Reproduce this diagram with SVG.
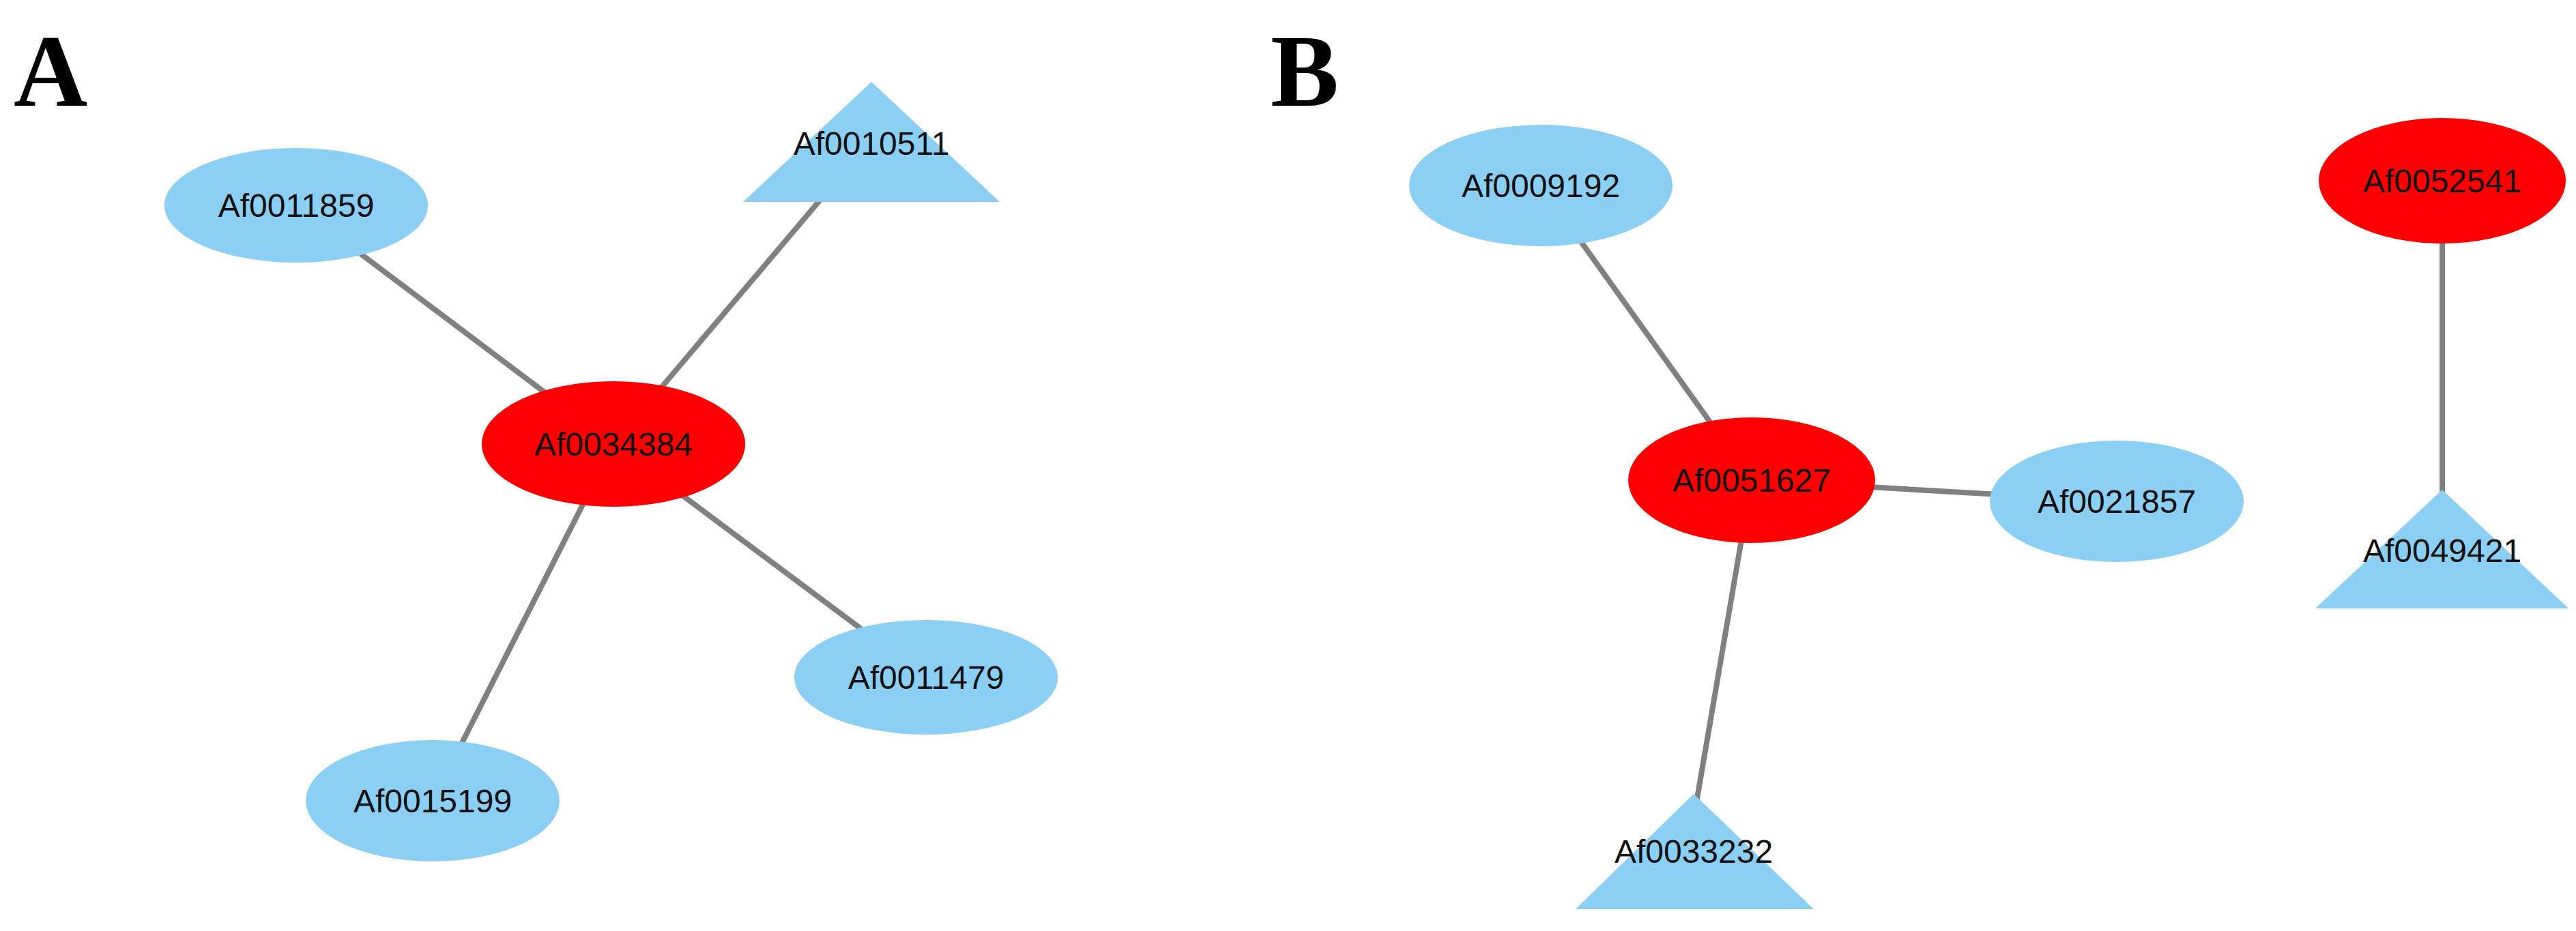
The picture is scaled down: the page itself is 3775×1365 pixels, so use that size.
<svg xmlns="http://www.w3.org/2000/svg" width="3775" height="1365" viewBox="0 0 3775 1365">
<style>
.b{fill:#8ccff4}.r{fill:#ff0000}
.t{font-family:"Liberation Sans",Arial,sans-serif;font-size:48px;fill:#111;text-anchor:middle;dominant-baseline:central}
.L{font-family:"Liberation Serif","Times New Roman",serif;font-size:150px;font-weight:bold;fill:#000}
#edges line{stroke:#808080;stroke-width:8}
</style>
<rect width="3775" height="1365" fill="#fff"/>
<text class="L" x="20" y="155">A</text>
<text class="L" x="1862" y="155">B</text>
<g id="edges">
<line x1="899" y1="651" x2="434" y2="301"/>
<line x1="899" y1="651" x2="1230" y2="260"/>
<line x1="899" y1="651" x2="1357" y2="993"/>
<line x1="899" y1="651" x2="634" y2="1174"/>
<line x1="2567" y1="704" x2="2258" y2="272"/>
<line x1="2567" y1="704" x2="3102" y2="735"/>
<line x1="2567" y1="704" x2="2482" y2="1200"/>
<line x1="3579" y1="265" x2="3579" y2="760"/>
</g>
<g id="n11859"><ellipse class="b" cx="434" cy="301" rx="193" ry="84"/><text class="t" x="434" y="301">Af0011859</text></g>
<g id="n10511"><polygon class="b" points="1277,120 1465,296 1089,296"/><text class="t" x="1277" y="210">Af0010511</text></g>
<g id="n34384"><ellipse class="r" cx="899" cy="651" rx="193" ry="92"/><text class="t" x="899" y="651">Af0034384</text></g>
<g id="n11479"><ellipse class="b" cx="1357" cy="993" rx="193" ry="84"/><text class="t" x="1357" y="993">Af0011479</text></g>
<g id="n15199"><ellipse class="b" cx="634" cy="1174" rx="186" ry="89"/><text class="t" x="634" y="1174">Af0015199</text></g>
<g id="n9192"><ellipse class="b" cx="2258" cy="272" rx="193" ry="89"/><text class="t" x="2258" y="272">Af0009192</text></g>
<g id="n51627"><ellipse class="r" cx="2567" cy="704" rx="181" ry="92"/><text class="t" x="2567" y="704">Af0051627</text></g>
<g id="n21857"><ellipse class="b" cx="3102" cy="735" rx="186" ry="89"/><text class="t" x="3102" y="735">Af0021857</text></g>
<g id="n33232"><polygon class="b" points="2482,1164 2658,1333 2309,1333"/><text class="t" x="2482" y="1248">Af0033232</text></g>
<g id="n52541"><ellipse class="r" cx="3579" cy="265" rx="181" ry="92"/><text class="t" x="3579" y="265">Af0052541</text></g>
<g id="n49421"><polygon class="b" points="3579,718 3764,892 3393,892"/><text class="t" x="3579" y="807">Af0049421</text></g>
</svg>
